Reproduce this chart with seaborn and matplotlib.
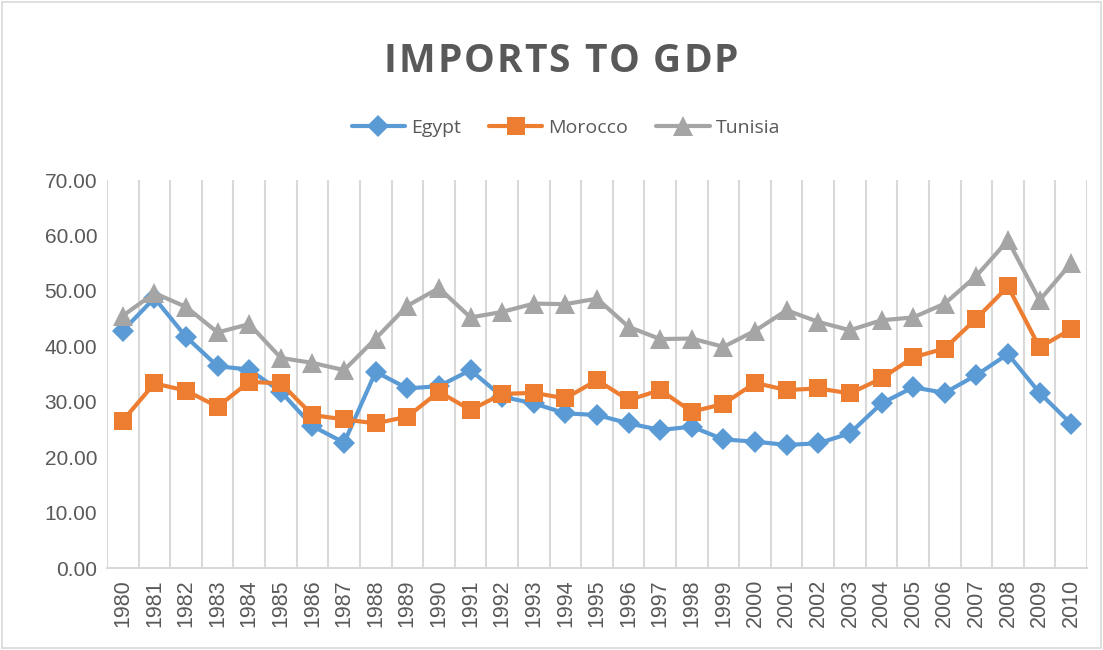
import matplotlib
matplotlib.use("Agg")
import matplotlib.pyplot as plt
import seaborn as sns
import pandas as pd
from matplotlib.patches import Rectangle
from matplotlib.ticker import FixedLocator, FormatStrFormatter
from matplotlib.font_manager import FontProperties

years = list(range(1980, 2011))
egypt = [42.8, 48.7, 41.7, 36.4, 35.8, 31.8, 25.6, 22.6, 35.4, 32.4,
         32.8, 35.7, 30.9, 29.7, 27.9, 27.6, 26.1, 24.9, 25.5, 23.2,
         22.8, 22.2, 22.5, 24.3, 29.7, 32.6, 31.6, 34.8, 38.6, 31.6,
         26.0]
morocco = [26.6, 33.3, 32.0, 29.1, 33.6, 33.3, 27.6, 26.8, 26.1, 27.3,
           31.8, 28.5, 31.4, 31.6, 30.6, 33.9, 30.3, 32.1, 28.2, 29.6,
           33.4, 32.1, 32.4, 31.5, 34.2, 38.0, 39.6, 45.0, 50.8, 39.8,
           43.1]
tunisia = [45.5, 49.6, 47.1, 42.5, 44.0, 37.9, 37.0, 35.7, 41.4, 47.3,
           50.5, 45.2, 46.2, 47.7, 47.6, 48.6, 43.5, 41.3, 41.4, 39.9,
           42.8, 46.5, 44.4, 42.9, 44.7, 45.2, 47.7, 52.7, 59.1, 48.3,
           55.0]
countries = ["Egypt", "Morocco", "Tunisia"]
y_ticks = [0, 10, 20, 30, 40, 50, 60, 70]
title = "IMPORTS TO GDP"

df = pd.DataFrame({
    "Year": years * 3,
    "Value": egypt + morocco + tunisia,
    "Country": sum([[c] * len(years) for c in countries], []),
})

sns.set_theme(style="white")
plt.rcParams["font.family"] = ["Liberation Sans", "DejaVu Sans"]

text_color = "#595959"
grid_color = "#d9d9d9"
palette = {"Egypt": "#5B9BD5", "Morocco": "#ED7D31", "Tunisia": "#A5A5A5"}
markers = {"Egypt": "D", "Morocco": "s", "Tunisia": "^"}
marker_sizes = {"Egypt": 11, "Morocco": 12.5, "Tunisia": 14}

W, H = 1103, 650
fig = plt.figure(figsize=(W / 100, H / 100), dpi=100)
ax = fig.add_axes([107 / W, 82 / H, (1087 - 107) / W, (568 - 180) / H])

sns.lineplot(data=df, x="Year", y="Value", hue="Country", style="Country",
             palette=palette, markers=markers, dashes=False, linewidth=3.0,
             markersize=11, markeredgewidth=0, ax=ax, legend=True)

# per-series marker sizes
for line in ax.get_lines():
    for c in countries:
        if line.get_color() == palette[c]:
            line.set_markersize(marker_sizes[c])

# vertical gridlines between categories
for b in [y - 0.5 for y in years] + [years[-1] + 0.5]:
    ax.axvline(b, color=grid_color, lw=1.5, zorder=0)

ax.set_xlim(years[0] - 0.5, years[-1] + 0.5)
ax.set_ylim(0, 70)
ax.xaxis.set_major_locator(FixedLocator(years))
ax.set_xticklabels([str(y) for y in years], rotation=90)
ax.yaxis.set_major_locator(FixedLocator(y_ticks))
ax.yaxis.set_major_formatter(FormatStrFormatter("%.2f"))
ax.tick_params(axis="both", length=0, labelsize=15, labelcolor=text_color)
ax.tick_params(axis="x", pad=8, labelsize=15.5)
ax.tick_params(axis="y", pad=7)
ax.set_xlabel("")
ax.set_ylabel("")
for side in ["top", "right", "left"]:
    ax.spines[side].set_visible(False)
ax.spines["bottom"].set_color(grid_color)
ax.spines["bottom"].set_linewidth(1.5)

handles, labels = ax.get_legend_handles_labels()
ax.legend_.remove()
for h, lab in zip(handles, labels):
    h.set_linewidth(3.0)
    h.set_markersize(marker_sizes.get(lab, 11))
fig.legend(handles, labels, loc="center", bbox_to_anchor=(0.513, 1 - 128 / H),
           ncol=3, frameon=False, handlelength=2.75, columnspacing=1.45,
           handletextpad=0.3,
           prop={"family": "Open Sans", "size": 14}, labelcolor=text_color)

# letter-spaced title
tprop = FontProperties(family="Open Sans", weight="bold", size=28)
renderer = fig.canvas.get_renderer()
def text_w(s):
    w, _, _ = renderer.get_text_width_height_descent(s, tprop, ismath=False)
    return w
spacing = 2.0
total = text_w(title) + spacing * (len(title) - 1)
x0 = 561 - total / 2
for i, ch in enumerate(title):
    if ch == " ":
        continue
    xi = x0 + text_w(title[:i]) + spacing * i
    fig.text(xi / W, 1 - 61 / H, ch, ha="left", va="center",
             fontproperties=tprop, color=text_color)

fig.patches.append(Rectangle((0.002, 0.003), 0.996, 0.994, transform=fig.transFigure,
                             fill=False, edgecolor=grid_color, lw=1.2))

fig.savefig("out.png", dpi=100, facecolor="white")
